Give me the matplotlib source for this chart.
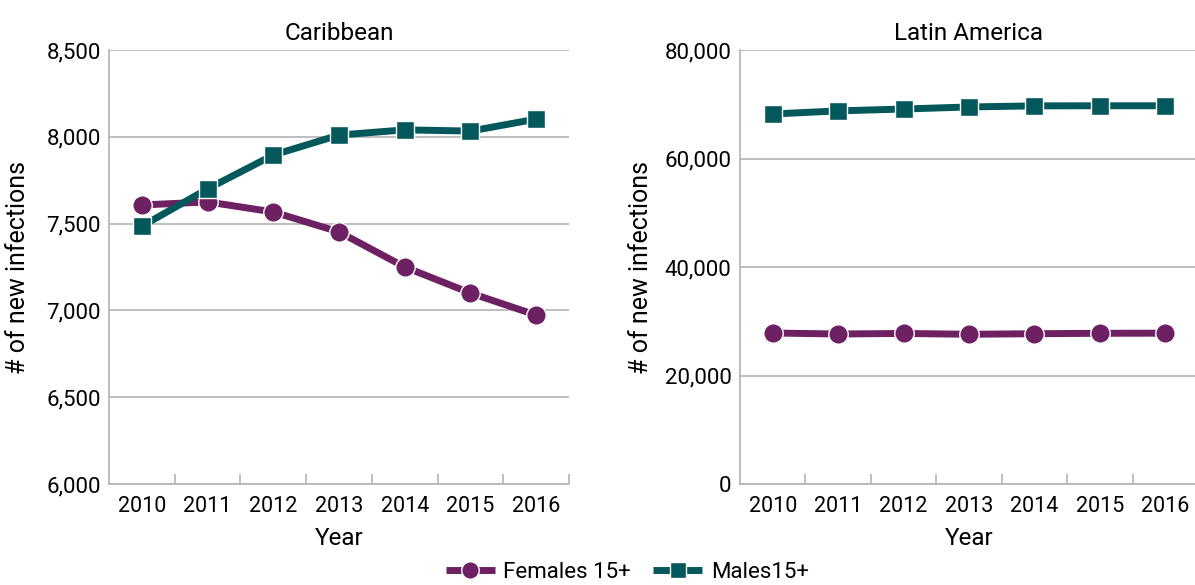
import matplotlib.pyplot as plt
import numpy as np
from matplotlib.ticker import FuncFormatter

plt.rcParams['font.family'] = ['Roboto', 'DejaVu Sans']

years = ['2010', '2011', '2012', '2013', '2014', '2015', '2016']
carib_females = [7607, 7625, 7567, 7452, 7250, 7100, 6973]
carib_males = [7485, 7700, 7895, 8010, 8040, 8033, 8102]
latam_females = [27830, 27650, 27750, 27600, 27700, 27780, 27800]
latam_males = [68200, 68780, 69120, 69500, 69700, 69720, 69720]

purple = '#6e2162'
teal = '#04585b'
grid_c = '#b3b3b3'

fig = plt.figure(figsize=(11.95, 5.85), dpi=100)
ax1 = fig.add_axes([109 / 1195, 1 - 484 / 585, 460 / 1195, 434 / 585])
ax2 = fig.add_axes([740 / 1195, 1 - 484 / 585, 458 / 1195, 434 / 585])

fmt = FuncFormatter(lambda v, p: f'{int(v):,}')

panels = [
    (ax1, 'Caribbean', carib_females, carib_males, (6000, 8500), np.arange(6000, 8501, 500)),
    (ax2, 'Latin America', latam_females, latam_males, (0, 80000), np.arange(0, 80001, 20000)),
]

x = np.arange(len(years))
for ax, title, fem, mal, ylim, yt in panels:
    ax.plot(x, fem, color=purple, lw=5, marker='o', ms=14, mec='white', mew=1,
            label='Females 15+', solid_capstyle='butt', zorder=3)
    ax.plot(x, mal, color=teal, lw=5, marker='s', ms=13, mec='white', mew=1,
            label='Males15+', solid_capstyle='butt', zorder=3)
    ax.set_xlim(-0.5, len(years) - 0.5)
    ax.set_ylim(*ylim)
    ax.set_yticks(yt)
    ax.yaxis.set_major_formatter(fmt)
    ax.set_xticks(x)
    ax.set_xticklabels(years)
    ax.set_xticks(np.arange(0.5, len(years), 1), minor=True)
    ax.tick_params(axis='x', which='major', length=0, pad=9, labelsize=15.5)
    ax.tick_params(axis='x', which='minor', direction='in', length=7, color=grid_c, width=1.2)
    ax.tick_params(axis='y', length=0, pad=6, labelsize=16)
    ax.grid(axis='y', color=grid_c, lw=1.2)
    ax.set_axisbelow(True)
    for s in ['top', 'right']:
        ax.spines[s].set_visible(False)
    for s in ['left', 'bottom']:
        ax.spines[s].set_color(grid_c)
        ax.spines[s].set_linewidth(1.2)
    ax.set_title(title, fontsize=17.5, pad=7)
    ax.set_xlabel('Year', fontsize=17.5, labelpad=7)
    ax.set_ylabel('# of new infections', fontsize=18)

ax1.yaxis.set_label_coords(-0.172, 0.5)
ax2.yaxis.set_label_coords(-0.19, 0.5)

handles, labels = ax1.get_legend_handles_labels()
fig.legend(handles, labels, loc='center', bbox_to_anchor=(0.525, 0.022), ncol=2,
           frameon=False, fontsize=16, handlelength=2.2, columnspacing=1.0,
           handletextpad=0.4, markerscale=0.9)

fig.savefig('out.png', dpi=100)
